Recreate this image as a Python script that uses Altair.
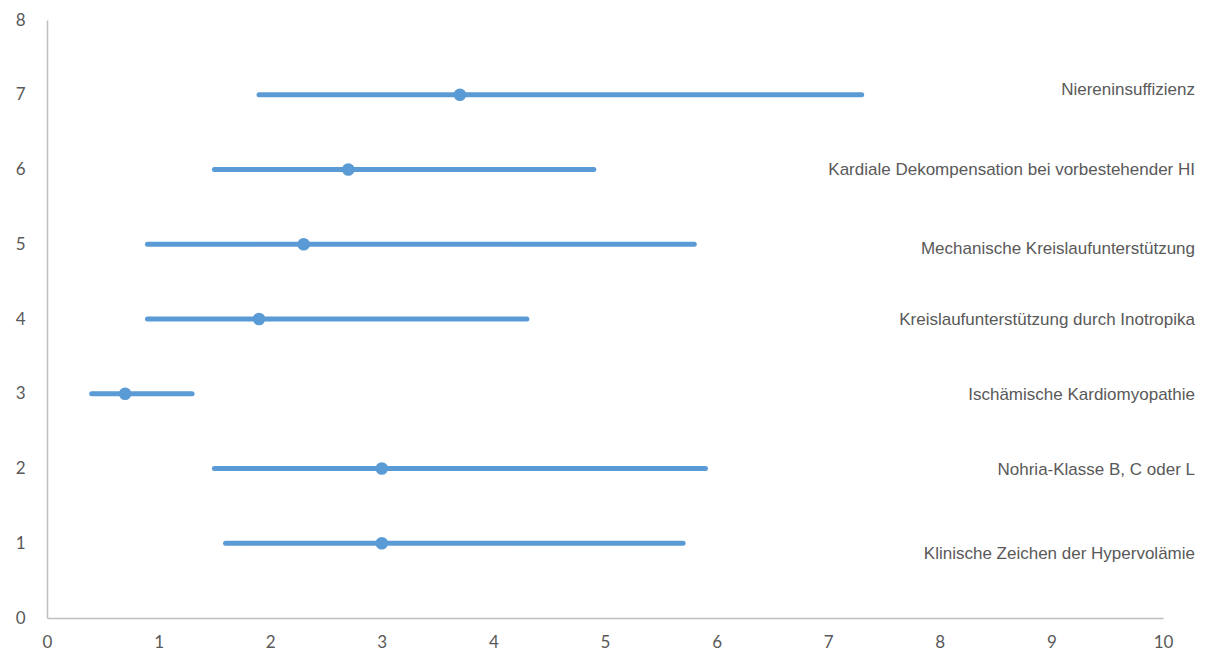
import altair as alt
import pandas as pd

labels = [
    "Klinische Zeichen der Hypervolämie",
    "Nohria-Klasse B, C oder L",
    "Ischämische Kardiomyopathie",
    "Kreislaufunterstützung durch Inotropika",
    "Mechanische Kreislaufunterstützung",
    "Kardiale Dekompensation bei vorbestehender HI",
    "Niereninsuffizienz",
]
row = [1, 2, 3, 4, 5, 6, 7]
estimate = [3.0, 3.0, 0.7, 1.9, 2.3, 2.7, 3.7]
lower = [1.6, 1.5, 0.4, 0.9, 0.9, 1.5, 1.9]
upper = [5.7, 5.9, 1.3, 4.3, 5.8, 4.9, 7.3]
label_y = [0.85, 1.98, 2.98, 3.99, 4.93, 5.99, 7.07]

df = pd.DataFrame({"label": labels, "row": row, "est": estimate,
                   "lo": lower, "hi": upper, "ly": label_y})

BLUE = "#5B9BD5"
GREY = "#595959"

xs = alt.Scale(domain=[0, 10], nice=False)
ys = alt.Scale(domain=[0, 8], nice=False)

base = alt.Chart(df)

rules = base.mark_rule(color=BLUE, strokeWidth=5, strokeCap="round").encode(
    x=alt.X("lo:Q", scale=xs, axis=alt.Axis(values=list(range(0, 11)), format="d", ticks=False, grid=False,
                                             domainColor="#BFBFBF", domainWidth=1.5, labelFlush=False,
                                             labelFont="Lato", labelFontSize=17, labelColor=GREY,
                                             labelPadding=16, title=None)),
    x2="hi:Q",
    y=alt.Y("row:Q", scale=ys, axis=alt.Axis(values=list(range(0, 9)), format="d", ticks=False, grid=False,
                                              domainColor="#BFBFBF", domainWidth=1.5, labelFlush=False,
                                              labelFont="Lato", labelFontSize=17, labelColor=GREY,
                                              labelPadding=22, title=None)),
)

points = base.mark_circle(color=BLUE, size=160, opacity=1).encode(
    x=alt.X("est:Q", scale=xs),
    y=alt.Y("row:Q", scale=ys),
)

texts = base.mark_text(align="right", baseline="middle", font="Liberation Sans",
                       fontSize=17, color=GREY).encode(
    x=alt.value(1148),
    y=alt.Y("ly:Q", scale=ys),
    text="label:N",
)

chart = (rules + points + texts).properties(
    width=1116, height=598,
    autosize=alt.AutoSizeParams(type="none"),
    padding={"left": 47, "top": 20, "right": 47, "bottom": 44},
    background="white",
).configure_view(stroke=None)

chart.save("out.html", embed_options={"renderer": "svg", "actions": False})
